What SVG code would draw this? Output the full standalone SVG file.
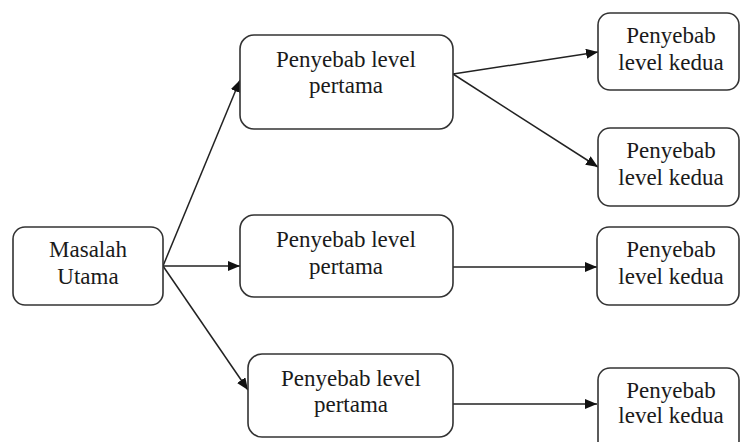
<svg xmlns="http://www.w3.org/2000/svg" width="740" height="442" viewBox="0 0 740 442">
<defs>
<style>
.box{fill:#fff;stroke:#333;stroke-width:1.6}
.t{font-size:23px;fill:#1a1a1a;text-anchor:middle}
.c{stroke:#222;stroke-width:1.5;fill:none;marker-end:url(#ah)}
</style>
<marker id="ah" viewBox="0 0 12 10" refX="12" refY="5" markerWidth="12" markerHeight="10" markerUnits="userSpaceOnUse" orient="auto">
<path d="M0,0 L12,5 L0,10 z" fill="#111"/>
</marker>
</defs>
<rect width="740" height="442" fill="#fff"/>
<g id="connectors">
<line class="c" x1="163" y1="266" x2="240" y2="80"/>
<line class="c" x1="163" y1="266" x2="240" y2="266"/>
<line class="c" x1="163" y1="266" x2="248" y2="390"/>
<line class="c" x1="453" y1="74" x2="598" y2="52"/>
<line class="c" x1="453" y1="74" x2="598" y2="167"/>
<line class="c" x1="453" y1="267" x2="597" y2="267"/>
<line class="c" x1="453" y1="404" x2="597" y2="404"/>
</g>
<g font-family="'Liberation Serif', 'DejaVu Serif', serif">
<g id="masalah">
<rect class="box" x="13" y="227" width="150" height="78" rx="12"/>
<text class="t" x="88" y="257">Masalah</text>
<text class="t" x="88" y="284">Utama</text>
</g>
<g id="l1a">
<rect class="box" x="240" y="35" width="213" height="94" rx="14"/>
<text class="t" x="346" y="67">Penyebab level</text>
<text class="t" x="346" y="93">pertama</text>
</g>
<g id="l1b">
<rect class="box" x="240" y="215" width="213" height="82" rx="14"/>
<text class="t" x="346" y="247">Penyebab level</text>
<text class="t" x="346" y="274">pertama</text>
</g>
<g id="l1c">
<rect class="box" x="248" y="354" width="205" height="83" rx="14"/>
<text class="t" x="351" y="386">Penyebab level</text>
<text class="t" x="351" y="412">pertama</text>
</g>
<g id="l2a">
<rect class="box" x="598" y="13" width="141" height="77" rx="12"/>
<text class="t" x="671" y="43">Penyebab</text>
<text class="t" x="671" y="70">level kedua</text>
</g>
<g id="l2b">
<rect class="box" x="598" y="128" width="141" height="78" rx="12"/>
<text class="t" x="671" y="158">Penyebab</text>
<text class="t" x="671" y="185">level kedua</text>
</g>
<g id="l2c">
<rect class="box" x="597" y="227" width="142" height="78" rx="12"/>
<text class="t" x="671" y="257">Penyebab</text>
<text class="t" x="671" y="284">level kedua</text>
</g>
<g id="l2d">
<rect class="box" x="598" y="368" width="141" height="85" rx="12"/>
<text class="t" x="671" y="398">Penyebab</text>
<text class="t" x="671" y="423">level kedua</text>
</g>
</g>
</svg>
